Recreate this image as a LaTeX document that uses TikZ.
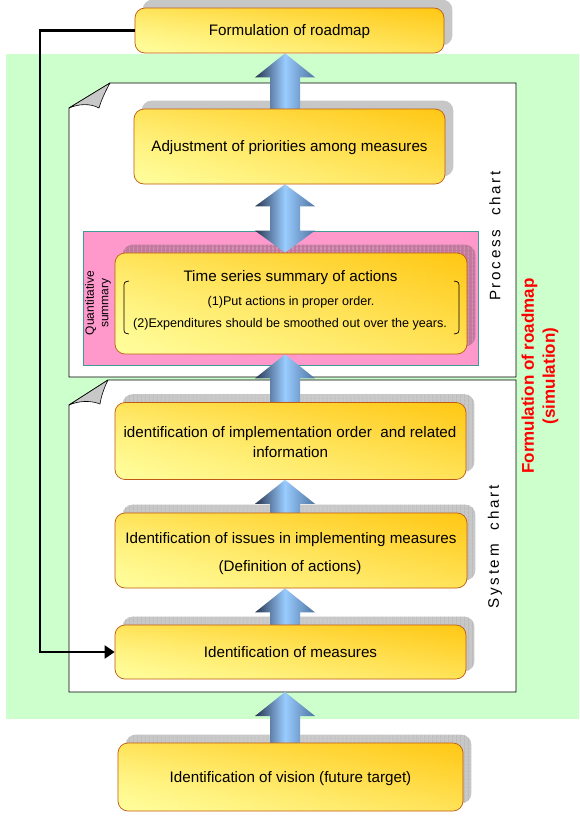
\documentclass[tikz,border=0pt]{standalone}
\usepackage{fontspec}
\setmainfont{Liberation Sans}
\newfontfamily\spacedfont[LetterSpace=18]{Liberation Sans}
\usetikzlibrary{arrows.meta,patterns.meta,calc,fadings}
\pgfdeclarelayer{bg}\pgfdeclarelayer{shad}\pgfdeclarelayer{arr}
\pgfsetlayers{bg,shad,arr,main}
\definecolor{bggreen}{HTML}{CCFFCC}
\definecolor{pinkq}{HTML}{FF99CC}
\definecolor{pinkedge}{HTML}{3F9A9A}
\definecolor{boxdark}{HTML}{FFC814}
\definecolor{boxlight}{HTML}{FFFF9E}
\definecolor{boxedge}{HTML}{BF5A14}
\definecolor{arrdark}{HTML}{26344F}
\definecolor{arrlight}{HTML}{99CCFF}
\definecolor{arrright}{HTML}{4F73A0}
\definecolor{foldgray}{HTML}{C8C8C8}
\tikzset{
  box/.style={
    preaction={left color=boxlight, right color=boxdark},
    preaction={fill=boxdark, fill opacity=0.5, path fading=south},
    preaction={fill=boxlight, fill opacity=0.5, path fading=north},
    draw=boxedge, line width=0.7pt, rounded corners=10pt,
    text=black, font=\fontsize{15.2}{18}\selectfont, inner sep=0pt,
    text height=13.5pt, text depth=3pt},
  txt/.style={font=\fontsize{15.2}{18}\selectfont, inner sep=0pt, anchor=base},
  smalltxt/.style={font=\fontsize{12.6}{15}\selectfont, inner sep=0pt, anchor=base},
  shadowfill/.style={fill=black, fill opacity=0.22, rounded corners=10pt},
  hatchfill/.style={pattern={Lines[angle=90,distance=4pt,line width=0.6pt]}, pattern color=black!30, rounded corners=10pt},
  arrshade/.style={left color=arrdark, right color=arrright, middle color=arrlight},
  pageline/.style={draw=black, line width=0.8pt, fill=white},
  foldstyle/.style={draw=black, line width=0.6pt, fill=foldgray, line join=round},
  fbline/.style={line width=2.2pt, -{Triangle[length=10pt,width=13pt]}},
  bracketline/.style={line width=0.7pt}
}
\newcommand\plainshadow[1]{\begin{pgfonlayer}{shad}
  \fill[shadowfill] ([shift={(8pt,8pt)}]#1.south west) rectangle ([shift={(8pt,8pt)}]#1.north east);
\end{pgfonlayer}}
\newcommand\hatchshadow[1]{\begin{pgfonlayer}{shad}
  \fill[shadowfill] ([shift={(8pt,8pt)}]#1.south west) rectangle ([shift={(8pt,8pt)}]#1.north east);
  \fill[hatchfill] ([shift={(8pt,8pt)}]#1.south west) rectangle ([shift={(8pt,8pt)}]#1.north east);
\end{pgfonlayer}}
\newcommand\blkup[2]{\begin{pgfonlayer}{arr}
  \path[arrshade] let \p1=(#1), \p2=(#2) in
    (\x2,\y2) -- (\x2+30pt,\y2-24pt) -- (\x2+15pt,\y2-24pt) -- (\x2+15pt,\y1)
    -- (\x2-15pt,\y1) -- (\x2-15pt,\y2-24pt) -- (\x2-30pt,\y2-24pt) -- cycle;
\end{pgfonlayer}}
\newcommand\blkboth[2]{\begin{pgfonlayer}{arr}
  \path[arrshade] let \p1=(#1), \p2=(#2) in
    (\x2,\y2) -- (\x2+30pt,\y2-22pt) -- (\x2+15pt,\y2-22pt) -- (\x2+15pt,\y1+22pt)
    -- (\x2+30pt,\y1+22pt) -- (\x2,\y1) -- (\x2-30pt,\y1+22pt) -- (\x2-15pt,\y1+22pt)
    -- (\x2-15pt,\y2-22pt) -- (\x2-30pt,\y2-22pt) -- cycle;
\end{pgfonlayer}}
\begin{document}
\begin{tikzpicture}[x=1pt,y=-1pt]
\useasboundingbox (0,0) rectangle (579,819);
% background, pages, pink area
\begin{pgfonlayer}{bg}
  \fill[white] (0,0) rectangle (579,819);
  \fill[bggreen] (6,54) rectangle (579,719);
  \path[pageline] (110,83) -- (516,83) -- (516,377) -- (69,377) -- (69,108) -- cycle;
  \path[foldstyle] (69,108) -- (110,83) .. controls (105,92) and (101,101) .. (99,108)
     .. controls (90,103) and (78,104) .. (69,108) -- cycle;
  \path[pageline] (108,380) -- (516,380) -- (516,692) -- (69,692) -- (69,405) -- cycle;
  \path[foldstyle] (69,405) -- (108,380) .. controls (104,388) and (101,397) .. (100,404)
     .. controls (90,400) and (78,401) .. (69,405) -- cycle;
  \filldraw[fill=pinkq, draw=pinkedge, line width=0.7pt] (83,231) rectangle (478,365);
\end{pgfonlayer}
\coordinate (axis) at (285,0);
\coordinate (sysbot) at (285,692);
\coordinate (fbx) at (40,0);
% boxes
\node[box, minimum width=309pt, minimum height=45pt] (top) at (289.5,30.5) {Formulation of roadmap};
\node[box, minimum width=311pt, minimum height=75pt] (adj) at (289.5,146.5) {Adjustment of priorities among measures};
\node[box, minimum width=352pt, minimum height=101pt] (ts) at (291,303.5) {};
\node[box, minimum width=351pt, minimum height=77pt] (impl) at (290.5,441) {};
\node[box, minimum width=352pt, minimum height=75pt] (iss) at (291,550.5) {};
\node[box, minimum width=351pt, minimum height=54pt] (meas) at (290.5,652) {Identification of measures};
\node[box, minimum width=345pt, minimum height=68pt] (vis) at (290.5,777) {Identification of vision (future target)};
% shadows
\plainshadow{top}
\plainshadow{adj}
\hatchshadow{ts}
\hatchshadow{impl}
\hatchshadow{iss}
\hatchshadow{meas}
\hatchshadow{vis}
% block arrows
\blkup{axis |- adj.center}{axis |- top.south}
\blkboth{axis |- ts.north}{axis |- adj.south}
\blkup{axis |- impl.center}{axis |- ts.south}
\blkup{axis |- iss.center}{axis |- impl.south}
\blkup{axis |- meas.center}{axis |- iss.south}
\blkup{axis |- vis.center}{sysbot}
% texts in multi-line boxes
\node[txt] (ts1) at (290.5,281) {Time series summary of actions};
\node[smalltxt] (ts2) at (291,305) {(1)Put actions in proper order.};
\node[smalltxt] (ts3) at (290,327) {(2)Expenditures should be smoothed out over the years.};
\draw[bracketline] (129,281) .. controls (124,282) .. (124,288) -- (124,327) .. controls (124,333) .. (129,334);
\draw[bracketline] (454,281) .. controls (459,282) .. (459,288) -- (459,327) .. controls (459,333) .. (454,334);
\node[txt] (im1) at (290,437) {identification of implementation order\ \ and related};
\node[txt] (im2) at (290.5,457) {information};
\node[txt] (is1) at (291,543.5) {Identification of issues in implementing measures};
\node[txt] (is2) at (290,571.5) {(Definition of actions)};
% side labels
\node[rotate=90, align=center, font=\fontsize{12}{14.5}\selectfont] (qs) at (98,303) {Quantitative\\summary};
\node[rotate=90, font=\spacedfont\fontsize{15.2}{18}\selectfont] (pc) at (495,236) {Process\ \ chart};
\node[rotate=90, font=\spacedfont\fontsize{15.2}{18}\selectfont] (sc) at (495,547) {System\ \ chart};
\node[rotate=90, align=center, text=red, font=\bfseries\fontsize{17}{21}\selectfont] (red) at (540,376) {Formulation of roadmap\\(simulation)};
% feedback connector
\draw[fbline] (top.west) -- (fbx |- top.west) -- (fbx |- meas.west) -- (meas.west);
\end{tikzpicture}
\end{document}
